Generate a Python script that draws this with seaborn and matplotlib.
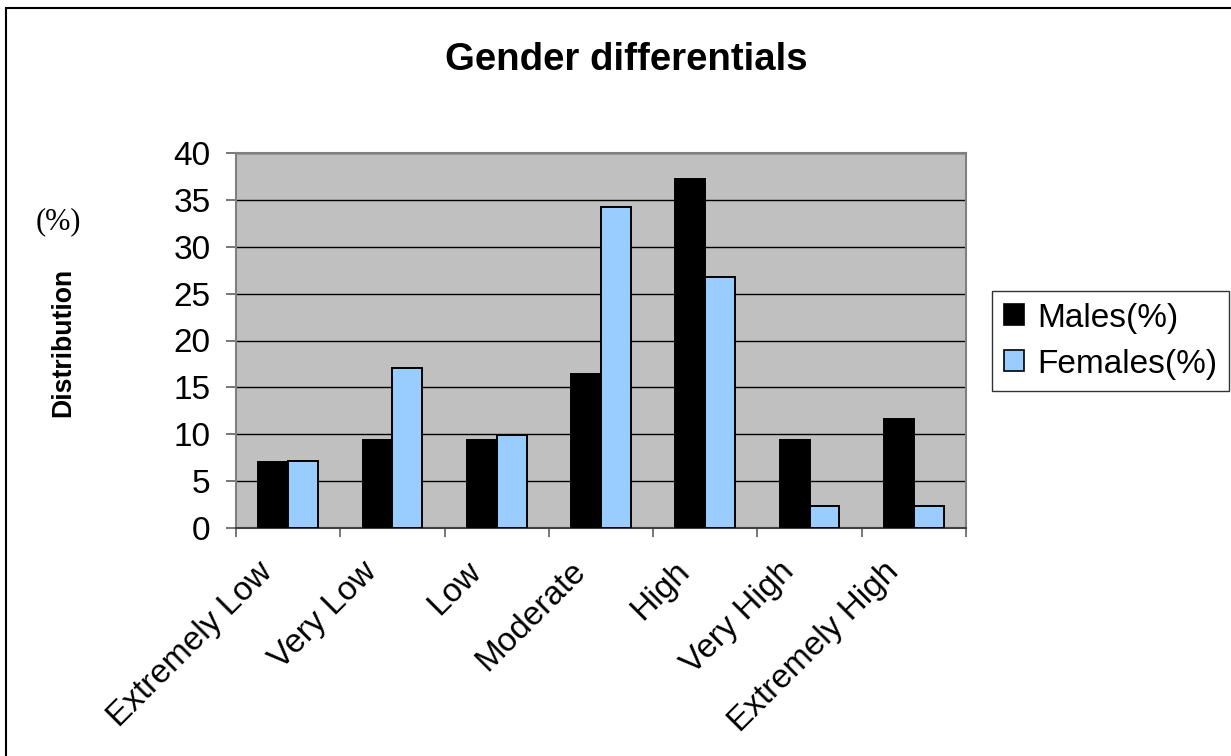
import numpy as np
import pandas as pd
import matplotlib
matplotlib.use("Agg")
import matplotlib.pyplot as plt
import matplotlib.patches as mpatches
import matplotlib.transforms as mtransforms
import seaborn as sns

# Distribution of scores by gender (percent)
categories = ["Extremely Low", "Very Low", "Low", "Moderate", "High",
              "Very High", "Extremely High"]
males = [7.0, 9.4, 9.4, 16.4, 37.2, 9.4, 11.6]
females = [7.2, 17.1, 9.9, 34.2, 26.8, 2.3, 2.3]
series_names = ["Males(%)", "Females(%)"]
y_ticks = [0, 5, 10, 15, 20, 25, 30, 35, 40]

df = pd.DataFrame({
    "category": categories * 2,
    "value": males + females,
    "series": [series_names[0]] * len(categories) + [series_names[1]] * len(categories),
})

sns.set_theme(style="white")
plt.rcParams["font.family"] = ["Liberation Sans", "DejaVu Sans"]
plt.rcParams["text.color"] = "black"
plt.rcParams["xtick.labelcolor"] = "black"
plt.rcParams["ytick.labelcolor"] = "black"

W, H = 1231, 756
fig = plt.figure(figsize=(W / 100, H / 100), dpi=100)
ax = fig.add_axes([236 / W, 1 - 528 / H, (966 - 236) / W, (528 - 153) / H])

palette = {series_names[0]: "#000000", series_names[1]: "#99CCFF"}
sns.barplot(data=df, x="category", y="value", hue="series", order=categories,
            hue_order=series_names, palette=palette, width=4 / 7, gap=0,
            edgecolor="black", linewidth=1.4, saturation=1, ax=ax, zorder=3)

ax.set_facecolor("#C0C0C0")
ax.set_xlim(-0.5, len(categories) - 0.5)
ax.set_ylim(0, 40)
ax.set_yticks(y_ticks)
ax.yaxis.grid(True, color="black", linewidth=1.0, zorder=1)
ax.set_axisbelow(True)
for s in ax.spines.values():
    s.set_color("#808080")
    s.set_linewidth(1.5)
    s.set_visible(True)
ax.spines["bottom"].set_color("#404040")

ax.tick_params(axis="y", which="major", direction="out", length=7.2, width=1.2,
               color="#606060", labelsize=24, labelcolor="black", pad=11,
               left=True)
ax.set_xticks(range(len(categories)))
ax.set_xticklabels(categories, rotation=45, ha="right", va="center",
                   rotation_mode="anchor", fontsize=24, color="black")
ax.tick_params(axis="x", which="major", length=0, pad=28)
shift = mtransforms.ScaledTranslation(-20 / 100, 0, fig.dpi_scale_trans)
for lbl in ax.get_xticklabels():
    lbl.set_transform(lbl.get_transform() + shift)
ax.set_xticks(np.arange(-0.5, len(categories)), minor=True)
ax.tick_params(axis="x", which="minor", direction="out", length=6.5, width=1.2,
               color="#606060", bottom=True)

ax.set_xlabel("")
ax.set_ylabel("")
fig.text(70 / W, 1 - 342 / H, "Distribution", rotation=90, ha="center",
         va="baseline", rotation_mode="anchor", fontsize=19.2,
         fontweight="bold", color="black")
fig.text(58 / W, 1 - 222 / H, "(%)", ha="center", va="center", fontsize=22,
         family=["Liberation Serif", "DejaVu Serif"], color="black")
fig.text(626 / W, 1 - 70 / H, "Gender differentials", ha="center",
         va="baseline", fontsize=27.6, fontweight="bold", color="black")

handles, labels = ax.get_legend_handles_labels()
leg = ax.legend(handles, labels, loc="upper left",
                bbox_to_anchor=(992 / W, 1 - 291 / H),
                bbox_transform=fig.transFigure, fontsize=24,
                frameon=True, fancybox=False, edgecolor="black",
                handlelength=0.6, handleheight=0.6, handletextpad=0.42,
                borderpad=0.35, labelspacing=0.45, borderaxespad=0)
leg.get_frame().set_linewidth(1.0)
for t in leg.get_texts():
    t.set_color("black")
for h in leg.legend_handles:
    h.set_edgecolor("black")
    h.set_linewidth(1.2)

fig.patches.append(mpatches.Rectangle((6 / W, -0.1), 1.2, 1 - 8 / H + 0.1,
                                      transform=fig.transFigure, fill=False,
                                      edgecolor="black", linewidth=1.5))

fig.savefig("out.png", dpi=100, facecolor="white")
